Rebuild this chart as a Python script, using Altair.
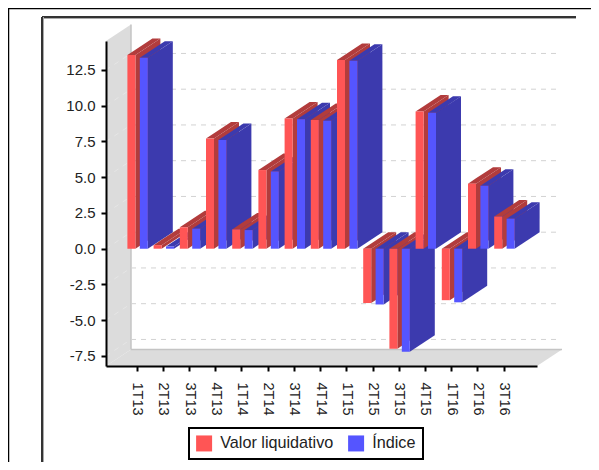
import altair as alt
import pandas as pd

periods = ["1T13","2T13","3T13","4T13","1T14","2T14","3T14","4T14","1T15","2T15","3T15","4T15","1T16","2T16","3T16"]
valor = [13.55,0.25,1.5,7.7,1.35,5.5,9.1,9.0,13.2,-3.8,-7.0,9.6,-3.6,4.55,2.25]
indice = [13.35,0.15,1.4,7.6,1.3,5.4,9.05,8.95,13.15,-3.9,-7.2,9.5,-3.75,4.4,2.1]
y_ticks = [-7.5,-5.0,-2.5,0.0,2.5,5.0,7.5,10.0,12.5]
series_names = ["Valor liquidativo","Índice","Valor liquidativo (cara)","Índice (cara)"]
series_colors = ["#FF5555","#5555FF","#B23C3C","#3C3AAE"]
wall_color = "#DCDCDC"
wall_edge = "#C4C4C4"
grid_color = "#D2D2D2"
FONT = "Liberation Sans"

# geometry (page pixels -> scale units)
ORG_X, ORG_Y = 106, 41
W, H = 431, 325
PAGE_R, PAGE_B = 591, 462
PX_X = 26.2
PX_Y = 14.3
X0_PAGE = 136.7
Y0_PAGE = 248.7
xdom = [(ORG_X - X0_PAGE) / PX_X, (ORG_X + W - X0_PAGE) / PX_X]
ydom = [(Y0_PAGE - (ORG_Y + H)) / PX_Y, (Y0_PAGE - ORG_Y) / PX_Y]
DX = 25 / PX_X
DY = 16.5 / PX_Y
BW = 8 / PX_X

rows = []
pid = 0
def poly(paint, pts):
    global pid
    pid += 1
    for (x, y, y2) in pts:
        rows.append(dict(poly=f"p{pid}", face=paint, x=x, y=y, y2=y2))

def bar(left, v, front, dark):
    x0, x1 = left, left + BW
    lo, hi = min(0, v), max(0, v)
    poly(dark, [(x1, lo, hi), (x1 + DX, lo + DY, hi + DY)])
    poly(dark, [(x0, hi, hi),
                (x1, hi, hi + DY * BW / DX),
                (x0 + DX, hi + DY * (DX - BW) / DX, hi + DY),
                (x1 + DX, hi + DY, hi + DY)])
    poly(front, [(x0, lo, hi), (x1, lo, hi)])

for i in range(len(periods)):
    bar(i - 9.3 / PX_X, valor[i], series_names[0], series_names[2])
    bar(i + 3.1 / PX_X, indice[i], series_names[1], series_names[3])

x_enc = alt.X("x:Q", scale=alt.Scale(domain=xdom, nice=False, zero=False),
              axis=alt.Axis(values=list(range(len(periods))),
                            labelExpr="[" + ",".join(f"'{p}'" for p in periods) + "][datum.value]",
                            labelAngle=90, labelAlign="left", labelBaseline="middle",
                            labelFont=FONT, labelFontSize=14.5, labelColor="#222222", labelPadding=11,
                            domainColor="#000000", domainWidth=2, tickColor="#000000", tickWidth=2,
                            tickSize=5, grid=False, title=None, zindex=1, labelOverlap=False,
                            labelSeparation=0, labelBound=False))
y_enc = alt.Y("y:Q", scale=alt.Scale(domain=ydom, nice=False, zero=False),
              axis=alt.Axis(values=y_ticks,
                            labelExpr="replace(format(datum.value,'.1f'),'\u2212','-')",
                            labelFont=FONT, labelFontSize=15,
                            labelColor="#222222", labelPadding=6,
                            domainColor="#000000", domainWidth=2, tickColor="#000000", tickWidth=2,
                            tickSize=5, grid=False, title=None, zindex=1))

bars = alt.Chart(pd.DataFrame(rows)).mark_area(interpolate="linear", opacity=1).encode(
    x=x_enc, y=y_enc, y2="y2:Q", detail="poly:N",
    color=alt.Color("face:N", scale=alt.Scale(domain=series_names, range=series_colors),
                    legend=alt.Legend(values=series_names[:2], title=None, orient="none",
                                      legendX=83, legendY=387, direction="horizontal", columns=2,
                                      symbolType="square", symbolSize=256, symbolStrokeWidth=0,
                                      symbolOpacity=1,
                                      labelFont=FONT, labelFontSize=16.2, labelColor="#222222",
                                      labelOffset=8, columnPadding=14, padding=7,
                                      strokeColor="#000000", fillColor="#FFFFFF")),
)

# walls
xa, xb = xdom
ya, yb = ydom
wall_df = pd.DataFrame([
    dict(poly="w", x=xa, y=ya, y2=yb), dict(poly="w", x=xa + DX, y=ya + DY, y2=yb + DY),
    dict(poly="f", x=xa, y=ya, y2=ya), dict(poly="f", x=xa + DX, y=ya, y2=ya + DY),
    dict(poly="f", x=xb, y=ya, y2=ya + DY), dict(poly="f", x=xb + DX, y=ya + DY, y2=ya + DY),
])
walls = alt.Chart(wall_df).mark_area(color=wall_color, interpolate="linear", clip=False).encode(
    x=x_enc, y=y_enc, y2="y2:Q", detail="poly:N")

edges_df = pd.DataFrame([
    dict(x=xa + DX, x2=xa + DX, y=ya + DY, y2=yb + DY),
    dict(x=xa + DX, x2=xb + DX, y=ya + DY, y2=ya + DY),
])
edges = alt.Chart(edges_df).mark_rule(color=wall_edge, strokeWidth=1.5).encode(
    x=x_enc, x2="x2:Q", y=y_enc, y2="y2:Q")

grid_df = pd.DataFrame([dict(x=xa + DX, x2=xb + 22 / PX_X, y=t + DY, y2=t + DY) for t in y_ticks])
grid = alt.Chart(grid_df).mark_rule(color=grid_color, strokeWidth=1, strokeDash=[5, 5]).encode(
    x=x_enc, x2="x2:Q", y=y_enc, y2="y2:Q")

diag_df = pd.DataFrame([dict(x=xa, x2=xa + DX, y=t, y2=t + DY) for t in y_ticks])
diag = alt.Chart(diag_df).mark_rule(color="#E6E6E6", strokeWidth=1, strokeDash=[5, 5]).encode(
    x=x_enc, x2="x2:Q", y=y_enc, y2="y2:Q")

# surrounding frames
def hline(page_x0, page_x1, page_y, color, sw):
    return alt.Chart(pd.DataFrame({"a": [0]})).mark_rule(color=color, strokeWidth=sw).encode(
        x=alt.value(page_x0 - ORG_X), x2=alt.value(page_x1 - ORG_X), y=alt.value(page_y - ORG_Y))
def vline(page_x, page_y0, page_y1, color, sw):
    return alt.Chart(pd.DataFrame({"a": [0]})).mark_rule(color=color, strokeWidth=sw).encode(
        x=alt.value(page_x - ORG_X), y=alt.value(page_y0 - ORG_Y), y2=alt.value(page_y1 - ORG_Y))

frames = [
    hline(8, PAGE_R, 8.5, "#000000", 1.5),
    vline(8.5, 8, PAGE_B, "#000000", 1.5),
    hline(42, 576, 17, "#333333", 2),
    hline(42, 576, 18.5, "#AAAAAA", 1),
    vline(42, 17, PAGE_B, "#333333", 2),
    vline(43.5, 17, PAGE_B, "#AAAAAA", 1),
]

chart = alt.layer(walls, diag, edges, grid, bars, *frames).resolve_scale(
    x="shared", y="shared"
).properties(
    width=W, height=H,
    autosize=alt.AutoSizeParams(type="none"),
    padding={"left": ORG_X - 8, "top": ORG_Y - 8,
             "right": PAGE_R - ORG_X - W, "bottom": PAGE_B - ORG_Y - H},
    background="white",
).configure_view(stroke=None).configure_legend(strokeWidth=2)

chart.save("out.html", embed_options={"renderer": "svg", "actions": False})
